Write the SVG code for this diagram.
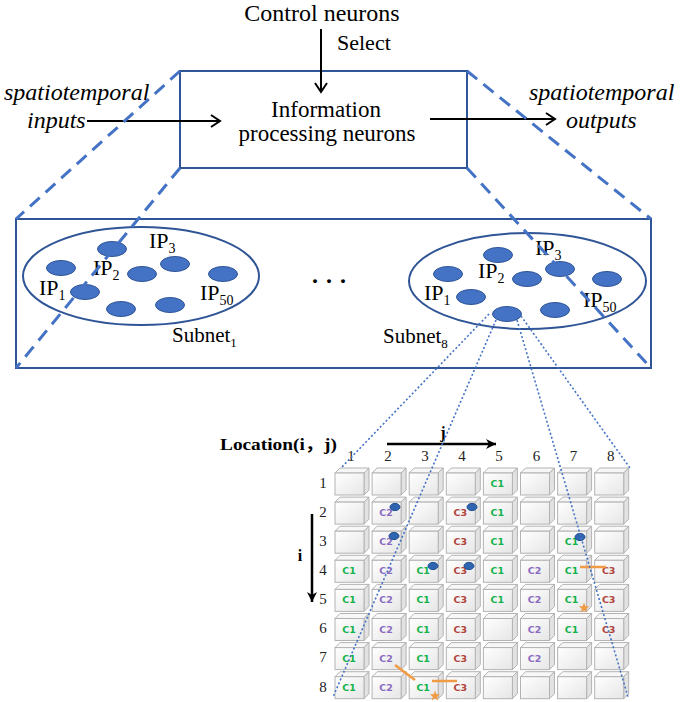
<svg xmlns="http://www.w3.org/2000/svg" width="682" height="702" viewBox="0 0 682 702" font-family="'Liberation Serif', 'Times New Roman', serif">
<style>
text{font-family:'Liberation Serif','Times New Roman',serif}
.tnr{fill:#000}
.it{font-style:italic}
.box{fill:none;stroke:#2F5597;stroke-width:2}
.ell{fill:none;stroke:#2F5597;stroke-width:2}
.dot{fill:#4472C4;stroke:#2F5597;stroke-width:1}
.cdot{fill:#2E64B0;stroke:#1F4E8C;stroke-width:1}
.dash{stroke:#4472C4;stroke-width:3;stroke-dasharray:13 8;fill:none}
.dotted{stroke:#4472C4;stroke-width:1.6;stroke-dasharray:2 2.2;fill:none}
.arrow{stroke:#000;stroke-width:2;fill:none}
text.cl{font-family:'DejaVu Sans',Verdana,sans-serif;font-weight:bold;font-size:9.5px;text-anchor:middle}
.c1{fill:#12B24A}
.c2{fill:#8B6BC0}
.c3{fill:#B0433C}
.num{font-size:15px;text-anchor:middle;fill:#222}
.orange{stroke:#F19B45;stroke-width:2.5;fill:none}
</style>
<defs>
<marker id="open" markerWidth="12" markerHeight="14" refX="10" refY="7" orient="auto" markerUnits="userSpaceOnUse">
<path d="M1,1 L10,7 L1,13" fill="none" stroke="#000" stroke-width="2"/>
</marker>
<marker id="solid" markerWidth="12" markerHeight="12" refX="10" refY="6" orient="auto" markerUnits="userSpaceOnUse">
<path d="M0,1 L10,6 L0,11 L3,6 Z" fill="#000"/>
</marker>
<linearGradient id="cubeFront" x1="0" y1="0" x2="1" y2="1">
<stop offset="0" stop-color="#ffffff"/>
<stop offset="1" stop-color="#e6e6e6"/>
</linearGradient>
<g id="cube">
<polygon points="0,0 5,-5 34,-5 29,0" fill="#f7f7f7" stroke="#b3b3b3" stroke-width="1"/>
<polygon points="29,0 34,-5 34,17 29,22" fill="#e2e2e2" stroke="#b3b3b3" stroke-width="1"/>
<rect x="0" y="0" width="29" height="22" fill="url(#cubeFront)" stroke="#b3b3b3" stroke-width="1"/>
</g>
<polygon id="star" points="0,-5.5 1.35,-1.86 5.23,-1.7 2.19,0.71 3.23,4.45 0,2.3 -3.23,4.45 -2.19,0.71 -5.23,-1.7 -1.35,-1.86" fill="#F19B45"/>
</defs>
<rect width="682" height="702" fill="#fff"/>

<g id="control-neurons">
<text class="tnr" x="322" y="21" font-size="24" text-anchor="middle">Control neurons</text>
<text class="tnr" x="337" y="50" font-size="22">Select</text>
</g>

<g id="info-processing">
<rect class="box" x="180" y="71" width="287" height="97"/>
<text class="tnr" x="326" y="117" font-size="23" text-anchor="middle">Information</text>
<text class="tnr" x="327" y="141" font-size="23" text-anchor="middle">processing neurons</text>
</g>

<g id="inputs">
<text class="tnr it" x="4" y="100" font-size="24">spatiotemporal</text>
<text class="tnr it" x="27" y="128" font-size="24">inputs</text>
</g>

<g id="outputs">
<text class="tnr it" x="529" y="100" font-size="24">spatiotemporal</text>
<text class="tnr it" x="566" y="128" font-size="24">outputs</text>
</g>

<g id="subnet-box">
<rect class="box" x="16" y="219" width="635" height="149"/>
<text class="tnr" x="311" y="289" font-size="24" font-weight="bold">· · ·</text>
</g>

<g id="subnet1">
<ellipse class="ell" cx="141" cy="276" rx="118" ry="49"/>
<ellipse class="dot" cx="61" cy="268" rx="14.5" ry="7.5"/>
<ellipse class="dot" cx="112" cy="249" rx="14.5" ry="7.5"/>
<ellipse class="dot" cx="175" cy="264" rx="14.5" ry="7.5"/>
<ellipse class="dot" cx="142" cy="274" rx="14.5" ry="7.5"/>
<ellipse class="dot" cx="223" cy="274" rx="14.5" ry="7.5"/>
<ellipse class="dot" cx="85" cy="292" rx="14.5" ry="7.5"/>
<ellipse class="dot" cx="121" cy="309" rx="14.5" ry="7.5"/>
<ellipse class="dot" cx="170" cy="305" rx="14.5" ry="7.5"/>
<text class="tnr" x="39" y="295" font-size="22">IP<tspan dy="5" font-size="14">1</tspan></text>
<text class="tnr" x="93" y="275" font-size="22">IP<tspan dy="5" font-size="14">2</tspan></text>
<text class="tnr" x="149" y="248" font-size="22">IP<tspan dy="5" font-size="14">3</tspan></text>
<text class="tnr" x="200" y="300" font-size="22">IP<tspan dy="5" font-size="14">50</tspan></text>
<text class="tnr" x="172" y="342" font-size="21">Subnet<tspan dy="5" font-size="13">1</tspan></text>
</g>

<g id="subnet8">
<ellipse class="ell" cx="527.5" cy="281" rx="118.5" ry="48"/>
<ellipse class="dot" cx="448" cy="274" rx="14.5" ry="7.5"/>
<ellipse class="dot" cx="498" cy="255" rx="14.5" ry="7.5"/>
<ellipse class="dot" cx="560" cy="269" rx="14.5" ry="7.5"/>
<ellipse class="dot" cx="527" cy="279" rx="14.5" ry="7.5"/>
<ellipse class="dot" cx="607" cy="279" rx="14.5" ry="7.5"/>
<ellipse class="dot" cx="471" cy="297" rx="14.5" ry="7.5"/>
<ellipse class="dot" cx="507" cy="314" rx="14.5" ry="7.5"/>
<ellipse class="dot" cx="555" cy="310" rx="14.5" ry="7.5"/>
<text class="tnr" x="424" y="300" font-size="22">IP<tspan dy="5" font-size="14">1</tspan></text>
<text class="tnr" x="478" y="278" font-size="22">IP<tspan dy="5" font-size="14">2</tspan></text>
<text class="tnr" x="535" y="255" font-size="22">IP<tspan dy="5" font-size="14">3</tspan></text>
<text class="tnr" x="583" y="307" font-size="22">IP<tspan dy="5" font-size="14">50</tspan></text>
<text class="tnr" x="383" y="343" font-size="21">Subnet<tspan dy="5" font-size="13">8</tspan></text>
</g>

<g id="location-grid">
<text class="tnr" x="220" y="450" font-size="16" font-weight="bold" textLength="117" lengthAdjust="spacingAndGlyphs" style="font-family:'Liberation Serif','Noto Sans CJK SC',serif">Location(i，j)</text>
<text class="tnr" x="443" y="438" font-size="16" font-weight="bold" text-anchor="middle">j</text>
<text class="tnr" x="300" y="561" font-size="16" font-weight="bold" text-anchor="middle">i</text>
<line x1="387" y1="444" x2="496" y2="444" stroke="#000" stroke-width="2.5" marker-end="url(#solid)"/>
<line x1="312" y1="514" x2="312" y2="602" stroke="#000" stroke-width="2.5" marker-end="url(#solid)"/>
<g>
<text class="num" x="351" y="461">1</text><text class="num" x="388" y="461">2</text><text class="num" x="425" y="461">3</text><text class="num" x="462" y="461">4</text>
<text class="num" x="499" y="461">5</text><text class="num" x="536.5" y="461">6</text><text class="num" x="573.6" y="461">7</text><text class="num" x="610.7" y="461">8</text>
<text class="num" x="323" y="488">1</text><text class="num" x="323" y="517">2</text><text class="num" x="323" y="546">3</text><text class="num" x="323" y="575">4</text>
<text class="num" x="323" y="604">5</text><text class="num" x="323" y="633">6</text><text class="num" x="323" y="662">7</text><text class="num" x="323" y="692">8</text>
</g>
<use href="#cube" x="335" y="473"/><use href="#cube" x="372.1" y="473"/><use href="#cube" x="409.2" y="473"/><use href="#cube" x="446.3" y="473"/><use href="#cube" x="483.4" y="473"/><use href="#cube" x="520.5" y="473"/><use href="#cube" x="557.6" y="473"/><use href="#cube" x="594.7" y="473"/>
<use href="#cube" x="335" y="502.1"/><use href="#cube" x="372.1" y="502.1"/><use href="#cube" x="409.2" y="502.1"/><use href="#cube" x="446.3" y="502.1"/><use href="#cube" x="483.4" y="502.1"/><use href="#cube" x="520.5" y="502.1"/><use href="#cube" x="557.6" y="502.1"/><use href="#cube" x="594.7" y="502.1"/>
<use href="#cube" x="335" y="531.2"/><use href="#cube" x="372.1" y="531.2"/><use href="#cube" x="409.2" y="531.2"/><use href="#cube" x="446.3" y="531.2"/><use href="#cube" x="483.4" y="531.2"/><use href="#cube" x="520.5" y="531.2"/><use href="#cube" x="557.6" y="531.2"/><use href="#cube" x="594.7" y="531.2"/>
<use href="#cube" x="335" y="560.3"/><use href="#cube" x="372.1" y="560.3"/><use href="#cube" x="409.2" y="560.3"/><use href="#cube" x="446.3" y="560.3"/><use href="#cube" x="483.4" y="560.3"/><use href="#cube" x="520.5" y="560.3"/><use href="#cube" x="557.6" y="560.3"/><use href="#cube" x="594.7" y="560.3"/>
<use href="#cube" x="335" y="589.4"/><use href="#cube" x="372.1" y="589.4"/><use href="#cube" x="409.2" y="589.4"/><use href="#cube" x="446.3" y="589.4"/><use href="#cube" x="483.4" y="589.4"/><use href="#cube" x="520.5" y="589.4"/><use href="#cube" x="557.6" y="589.4"/><use href="#cube" x="594.7" y="589.4"/>
<use href="#cube" x="335" y="618.5"/><use href="#cube" x="372.1" y="618.5"/><use href="#cube" x="409.2" y="618.5"/><use href="#cube" x="446.3" y="618.5"/><use href="#cube" x="483.4" y="618.5"/><use href="#cube" x="520.5" y="618.5"/><use href="#cube" x="557.6" y="618.5"/><use href="#cube" x="594.7" y="618.5"/>
<use href="#cube" x="335" y="647.6"/><use href="#cube" x="372.1" y="647.6"/><use href="#cube" x="409.2" y="647.6"/><use href="#cube" x="446.3" y="647.6"/><use href="#cube" x="483.4" y="647.6"/><use href="#cube" x="520.5" y="647.6"/><use href="#cube" x="557.6" y="647.6"/><use href="#cube" x="594.7" y="647.6"/>
<use href="#cube" x="335" y="676.7"/><use href="#cube" x="372.1" y="676.7"/><use href="#cube" x="409.2" y="676.7"/><use href="#cube" x="446.3" y="676.7"/><use href="#cube" x="483.4" y="676.7"/><use href="#cube" x="520.5" y="676.7"/><use href="#cube" x="557.6" y="676.7"/><use href="#cube" x="594.7" y="676.7"/>
<g>
<text class="cl c1" x="497.4" y="487">C1</text>
<text class="cl c2" x="386.1" y="516.1">C2</text><text class="cl c3" x="460.3" y="516.1">C3</text><text class="cl c1" x="497.4" y="516.1">C1</text>
<text class="cl c2" x="386.1" y="545.2">C2</text><text class="cl c3" x="460.3" y="545.2">C3</text><text class="cl c1" x="497.4" y="545.2">C1</text><text class="cl c1" x="571.6" y="545.2">C1</text>
<text class="cl c1" x="349" y="574.3">C1</text><text class="cl c2" x="386.1" y="574.3">C2</text><text class="cl c1" x="423.2" y="574.3">C1</text><text class="cl c3" x="460.3" y="574.3">C3</text><text class="cl c1" x="497.4" y="574.3">C1</text><text class="cl c2" x="534.5" y="574.3">C2</text><text class="cl c1" x="571.6" y="574.3">C1</text><text class="cl c3" x="608.7" y="574.3">C3</text>
<text class="cl c1" x="349" y="603.4">C1</text><text class="cl c2" x="386.1" y="603.4">C2</text><text class="cl c1" x="423.2" y="603.4">C1</text><text class="cl c3" x="460.3" y="603.4">C3</text><text class="cl c1" x="497.4" y="603.4">C1</text><text class="cl c2" x="534.5" y="603.4">C2</text><text class="cl c1" x="571.6" y="603.4">C1</text><text class="cl c3" x="608.7" y="603.4">C3</text>
<text class="cl c1" x="349" y="632.5">C1</text><text class="cl c2" x="386.1" y="632.5">C2</text><text class="cl c1" x="423.2" y="632.5">C1</text><text class="cl c3" x="460.3" y="632.5">C3</text><text class="cl c2" x="534.5" y="632.5">C2</text><text class="cl c1" x="571.6" y="632.5">C1</text><text class="cl c3" x="608.7" y="632.5">C3</text>
<text class="cl c1" x="349" y="661.6">C1</text><text class="cl c2" x="386.1" y="661.6">C2</text><text class="cl c1" x="423.2" y="661.6">C1</text><text class="cl c3" x="460.3" y="661.6">C3</text><text class="cl c2" x="534.5" y="661.6">C2</text>
<text class="cl c1" x="349" y="690.7">C1</text><text class="cl c2" x="386.1" y="690.7">C2</text><text class="cl c1" x="423.2" y="690.7">C1</text><text class="cl c3" x="460.3" y="690.7">C3</text>
</g>
<ellipse class="cdot" cx="395" cy="507" rx="5" ry="3.6"/>
<ellipse class="cdot" cx="394" cy="536" rx="5" ry="3.6"/>
<ellipse class="cdot" cx="472" cy="507" rx="5" ry="3.6"/>
<ellipse class="cdot" cx="580" cy="537" rx="5" ry="3.6"/>
<ellipse class="cdot" cx="433" cy="566" rx="5" ry="3.6"/>
<ellipse class="cdot" cx="469" cy="566" rx="5" ry="3.6"/>
<line class="orange" x1="580" y1="567" x2="606" y2="567"/>
<line class="orange" x1="395" y1="665" x2="415" y2="680"/>
<line class="orange" x1="432" y1="681" x2="457" y2="681"/>
<use href="#star" x="584" y="608"/>
<use href="#star" x="435" y="696"/>
</g>

<g id="connectors">
<line class="arrow" x1="321" y1="29" x2="321" y2="92" marker-end="url(#open)"/>
<line class="arrow" x1="87" y1="121" x2="220" y2="121" marker-end="url(#open)"/>
<line class="arrow" x1="430" y1="119" x2="555" y2="119" marker-end="url(#open)"/>
<line class="dash" x1="180" y1="71" x2="16" y2="219"/>
<line class="dash" x1="180" y1="168" x2="16" y2="368"/>
<line class="dash" x1="467" y1="71" x2="651" y2="219"/>
<line class="dash" x1="467" y1="168" x2="651" y2="368"/>
<line class="dotted" x1="489" y1="314" x2="341" y2="468"/>
<line class="dotted" x1="496" y1="320" x2="333" y2="697"/>
<line class="dotted" x1="517" y1="320" x2="628" y2="697"/>
<line class="dotted" x1="521" y1="316" x2="630" y2="468"/>
</g>
</svg>
